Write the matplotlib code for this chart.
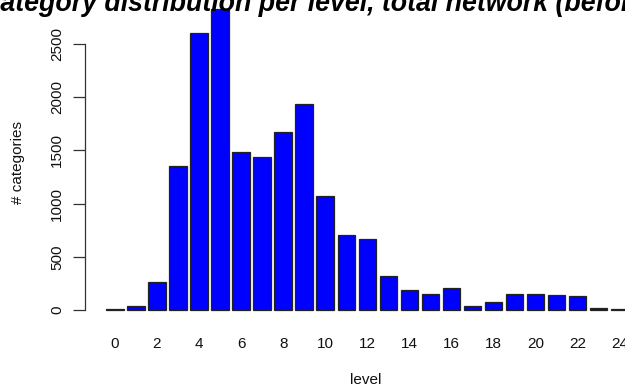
import matplotlib
matplotlib.use("Agg")
import matplotlib.pyplot as plt
import numpy as np

# category counts per level
levels = list(range(25))
counts = [7, 35, 264, 1349, 2605, 2825, 1481, 1438, 1670, 1933, 1068, 704, 667,
          321, 189, 148, 207, 41, 72, 151, 154, 139, 132, 19, 6]
ytick_vals = [0, 500, 1000, 1500, 2000, 2500]
title = "Category distribution per level, total network (before"

plt.rcParams['font.family'] = ['Liberation Sans', 'DejaVu Sans']

W, H = 625, 385
fig = plt.figure(figsize=(W / 100, H / 100), dpi=100)

# R barplot style geometry: width 1, space 0.2
x = 0.7 + 1.2 * np.arange(len(levels))
xlim = (0.2 - 0.04 * 30, 30.2 + 0.04 * 30)
ymax = max(counts)
ylim = (-0.04 * ymax, 1.04 * ymax)

# plot region in pixels (it runs past the right and top edges, the picture is cropped)
left_px, right_px = 85.1, 653.0
bottom_px, top_px = 322.0, -2.6
ax = fig.add_axes([left_px / W, 1 - bottom_px / H,
                   (right_px - left_px) / W, (bottom_px - top_px) / H])
ax.set_xlim(*xlim)
ax.set_ylim(*ylim)

ax.bar(x, counts, width=1.0, color='#0000FF', edgecolor='#222222', linewidth=0.9)

for s in ['top', 'right', 'bottom']:
    ax.spines[s].set_visible(False)
ax.spines['left'].set_bounds(0, 2500)
ax.spines['left'].set_color('#333333')
ax.spines['left'].set_linewidth(0.9)

ax.set_yticks(ytick_vals)
ax.set_yticklabels([str(v) for v in ytick_vals], rotation=90, va='center', fontsize=11, color='#111111')
ax.tick_params(axis='y', length=9, width=0.9, color='#333333', pad=6)

ax.set_xticks(x[::2])
ax.set_xticklabels([str(l) for l in levels[::2]], fontsize=11, color='#111111')
ax.tick_params(axis='x', length=0, pad=11)

fig.text(18.5 / W, 1 - 163 / H, "# categories", rotation=90, ha='center', va='center',
         fontsize=11, color='#111111')
fig.text((113 + 12 * 21.09) / W, 1 - 380 / H, "level", ha='center', va='center',
         fontsize=11, color='#111111')

# title: first letter is cut off on the left edge
tsize = 19.3
r = fig.canvas.get_renderer()
tmp = fig.text(0, 0, "C", fontsize=tsize, fontweight='bold', fontstyle='italic')
cw = tmp.get_window_extent(renderer=r).width
tmp.remove()
fig.text(-cw / W, 1 - 11 / H, title, ha='left', va='baseline', fontsize=tsize,
         fontweight='bold', fontstyle='italic', color='black')

fig.savefig("out.png", dpi=100)
